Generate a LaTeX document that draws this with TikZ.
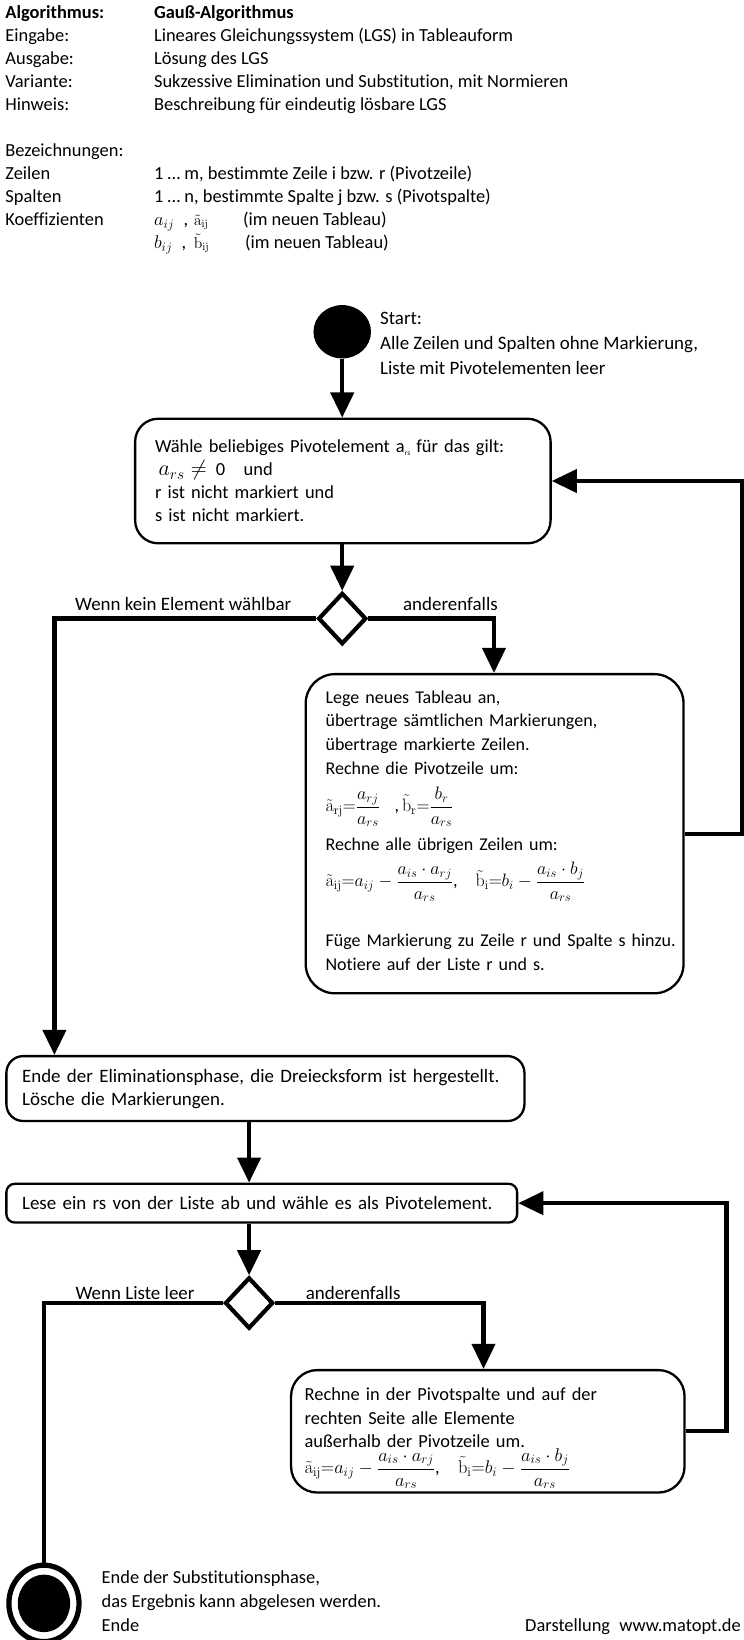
\RequirePackage{fix-cm}
\documentclass[tikz,border=0pt]{standalone}
\usepackage[no-math]{fontspec}
\setmainfont{Carlito}[Ligatures=NoCommon]
\usetikzlibrary{arrows.meta,shapes.geometric}

\newcommand\flowfont{\fontsize{17.6}{22}\selectfont}
\newcommand\wideflowfont{\fontsize{18.1}{22}\selectfont}
\newcommand\ta{\tilde{\mathrm{a}}}
\newcommand\tb{\tilde{\mathrm{b}}}

\begin{document}
\begin{tikzpicture}[
    x = 1pt, y = -1pt,
    font = \flowfont,
    every node/.style = {inner sep = 0pt},
    txt/.style = {anchor = north west, align = left},
    lbl/.style = {font = \wideflowfont},
    actbox/.style = {draw, line width = 2.2pt, rounded corners = #1,
        anchor = north west, align = left},
    decision/.style = {diamond, draw, line width = 4pt,
        minimum width = 46pt, minimum height = 49pt},
    flow/.style = {line width = 4pt, -{Triangle[width = 22pt, length = 24pt]}},
    link/.style = {line width = 4pt}]

\useasboundingbox (0,0) rectangle (710,1567);

% Kopf
\node[txt] (keys) at (5,5) {\textbf{Algorithmus:}\\ Eingabe:\\ Ausgabe:\\
    Variante:\\ Hinweis:\\[22pt] Bezeichnungen:\\ Zeilen\\ Spalten\\ Koeffizienten};
\node[txt] (values) at (147,5) {\textbf{Gauß-Algorithmus}\\
    Lineares Gleichungssystem (LGS) in Tableauform\\
    Lösung des LGS\\
    Sukzessive Elimination und Substitution, mit Normieren\\
    Beschreibung für eindeutig lösbare LGS\\[44pt]
    1 … m, bestimmte Zeile i bzw. r (Pivotzeile)\\
    1 … n, bestimmte Spalte j bzw. s (Pivotspalte)\\
    \makebox[38pt][l]{$a_{ij}$\enspace,}\makebox[47pt][l]{\fontsize{15}{22}\selectfont$\ta_{\mathrm{ij}}$}(im neuen Tableau)\\
    \makebox[38pt][l]{$b_{ij}$\enspace,}\makebox[49pt][l]{\fontsize{15}{22}\selectfont$\tb_{\mathrm{ij}}$}(im neuen Tableau)};

% Eliminationsphase
\node[ellipse, fill, minimum width = 55pt, minimum height = 51pt] (start) at (327,317) {};
\node[txt, font = \fontsize{18.1}{24}\selectfont] (starttxt) at (363,298)
    {Start:\\ Alle Zeilen und Spalten ohne Markierung,\\ Liste mit Pivotelementen leer};

\node[actbox = 22pt, inner xsep = 19pt, text width = 359pt, minimum height = 119pt] (pivot) at (128,399)
    {Wähle beliebiges Pivotelement a\raisebox{-3pt}{\fontsize{7}{8}\selectfont rs} für das gilt:\\
    {\fontsize{21}{22}\selectfont\,$a_{rs} \neq$}\enspace 0\enspace\, und\\
    r ist nicht markiert und\\
    s ist nicht markiert.};

\node[decision] (choice) at (327,591) {};
\node[lbl] (nochoice) at (175,577) {Wenn kein Element wählbar};
\node[lbl, anchor = west] (else1) at (385,577) {anderenfalls};

\node[actbox = 28pt, inner xsep = 19pt, text width = 323pt, minimum height = 305pt,
    font = \fontsize{17.2}{22.7}\selectfont] (tableau) at (291,643)
    {Lege neues Tableau an,\\
    übertrage sämtlichen Markierungen,\\
    übertrage markierte Zeilen.\\
    Rechne die Pivotzeile um:\\[11pt]
    $\displaystyle\ta_{\mathrm{rj}}{=}\frac{a_{rj}}{a_{rs}}$\hspace{14pt},\,$\displaystyle\tb_{\mathrm{r}}{=}\frac{b_r}{a_{rs}}$\\[10pt]
    Rechne alle übrigen Zeilen um:\\[7pt]
    $\displaystyle\ta_{\mathrm{ij}}{=}a_{ij}-\frac{a_{is}\cdot a_{rj}}{a_{rs}}$,\quad
    $\displaystyle\tb_{\mathrm{i}}{=}b_i-\frac{a_{is}\cdot b_j}{a_{rs}}$\\[30pt]
    \mbox{Füge Markierung zu Zeile r und Spalte s hinzu.}\\
    Notiere auf der Liste r und s.\rule[-6pt]{0pt}{6pt}};

\node[actbox = 16pt, inner xsep = 15pt, text width = 465pt, minimum height = 62pt, lbl] (elim) at (5,1008)
    {Ende der Eliminationsphase, die Dreiecksform ist hergestellt.\\
    Lösche die Markierungen.};

% Substitutionsphase
\node[actbox = 8pt, inner xsep = 15pt, text width = 458pt, minimum height = 37pt, lbl] (read) at (5,1130)
    {Lese ein rs von der Liste ab und wähle es als Pivotelement.};

\node[decision] (empty) at (238,1245) {};
\node[lbl, anchor = west] (listempty) at (72,1235) {Wenn Liste leer};
\node[lbl, anchor = west] (else2) at (292,1235) {anderenfalls};

\node[actbox = 25pt, inner xsep = 13pt, text width = 350pt, minimum height = 117pt] (back) at (277,1308)
    {\rule{0pt}{26pt}Rechne in der Pivotspalte und auf der\\
    rechten Seite alle Elemente\\
    außerhalb der Pivotzeile um.\\
    $\displaystyle\ta_{\mathrm{ij}}{=}a_{ij}-\frac{a_{is}\cdot a_{rj}}{a_{rs}}$,\quad
    $\displaystyle\tb_{\mathrm{i}}{=}b_i-\frac{a_{is}\cdot b_j}{a_{rs}}$};

\node[ellipse, draw, line width = 5pt, minimum width = 67pt, minimum height = 73pt] (stop) at (42,1532) {};
\node[ellipse, fill, minimum width = 50pt, minimum height = 55pt] (stopdot) at (stop) {};
\node[txt, font = \fontsize{17.6}{22.5}\selectfont] (stoptxt) at (97,1501)
    {Ende der Substitutionsphase,\\ das Ergebnis kann abgelesen werden.\\ Ende};
\node[anchor = north east] (credit) at (708,1546) {Darstellung\enspace www.matopt.de};

% Verbindungen
\draw[flow] (start.south) -- (start.south |- pivot.north);
\draw[flow] (pivot.south -| choice) -- (choice.north);
\draw[flow] (choice.west) -| ([xshift = 47pt]elim.north west);
\draw[flow] (choice.east) -| ([xshift = 181pt]tableau.north west);
\draw[flow] (tableau.east) -- ++(55,0) |- (pivot.east);
\draw[flow] ([xshift = 233pt]elim.south west) -- ([xshift = 233pt]read.north west);
\draw[flow] (read.south -| empty) -- (empty.north);
\draw[link] (empty.west) -| (stop.north);
\draw[flow] (empty.east) -| ([xshift = 185pt]back.north west);
\draw[flow] (back.east) -- ++(39,0) |- (read.east);
\end{tikzpicture}
\end{document}
